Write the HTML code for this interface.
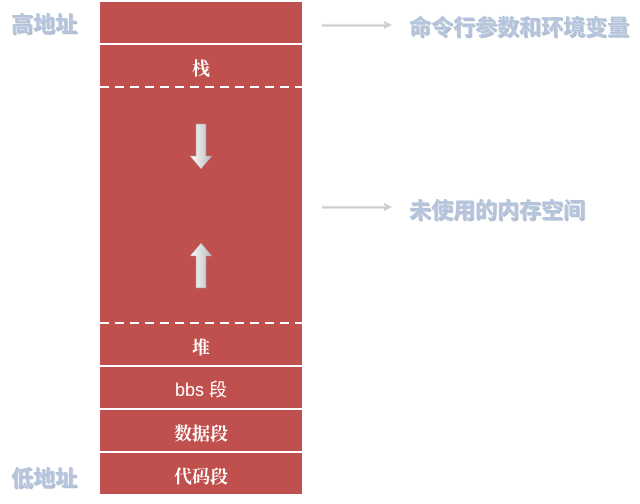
<!DOCTYPE html>
<html><head><meta charset="utf-8"><style>
body{margin:0;width:640px;height:504px;background:#fff;position:relative;overflow:hidden;font-family:"Liberation Sans","Noto Sans CJK SC",sans-serif}
.blk{position:absolute;left:100px;width:202px;background:#c0504d}
.t{position:absolute;left:100px;width:202px;text-align:center;color:#fff;font-size:18px;font-family:"Liberation Serif","Noto Serif CJK SC",serif;font-weight:bold}
.lbl{position:absolute;color:#b3c4dc;font-size:22px;font-weight:bold;text-shadow:0 0 2px #fff,1px 1px 1px #8090a8;white-space:nowrap}
.line{position:absolute;left:100px;width:202px;height:2px;background:#fff}
</style></head><body>
<div class="blk" style="top:2px;height:492px"></div>
<div class="line" style="top:43px"></div>
<div class="line" style="top:365px"></div>
<div class="line" style="top:408px"></div>
<div class="line" style="top:451px"></div>
<div class="t" style="top:55px">栈</div>
<div class="t" style="top:334px">堆</div>
<div class="t" style="top:376px;font-family:'Liberation Sans','Noto Sans CJK SC',sans-serif;font-weight:normal">bbs 段</div>
<div class="t" style="top:420px">数据段</div>
<div class="t" style="top:463px">代码段</div>
<svg style="position:absolute;left:0;top:0" width="640" height="504">
<defs><linearGradient id="g" x1="0" x2="1"><stop offset="0" stop-color="#fff"/><stop offset="1" stop-color="#bbb"/></linearGradient></defs>
<g stroke="#fff" stroke-width="2" stroke-dasharray="9 6"><line x1="100" y1="87" x2="302" y2="87"/><line x1="100" y1="323" x2="302" y2="323"/></g>
<path d="M196 124h10v32h6l-11 13-11-13h6z" fill="url(#g)" stroke="#999" stroke-width="0.5"/>
<path d="M196 288h10v-32h6l-11-13-11 13h6z" fill="url(#g)" stroke="#999" stroke-width="0.5"/>
<g stroke="#ccc" stroke-width="3"><line x1="322" y1="25" x2="386" y2="25"/><line x1="322" y1="207" x2="386" y2="207"/></g>
<g fill="#ccc"><path d="M384 21l8 4-8 4z"/><path d="M384 203l8 4-8 4z"/></g>
<g stroke="#f4f4f4" stroke-width="1"><line x1="322" y1="24" x2="386" y2="24"/><line x1="322" y1="206" x2="386" y2="206"/></g>
</svg>
<div class="lbl" style="left:11px;top:7px">高地址</div>
<div class="lbl" style="left:11px;top:461px">低地址</div>
<div class="lbl" style="left:409px;top:10px">命令行参数和环境变量</div>
<div class="lbl" style="left:409px;top:193px">未使用的内存空间</div>
</body></html>
